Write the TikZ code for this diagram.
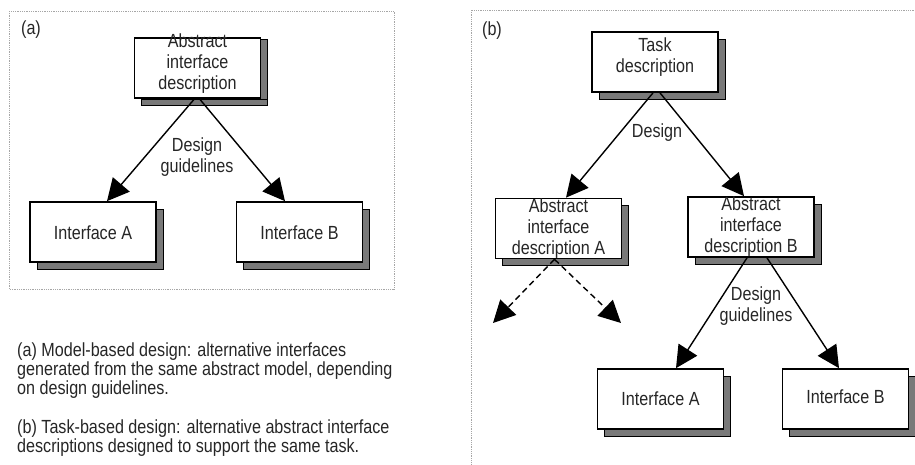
\documentclass[tikz,border=0pt]{standalone}
\usepackage{fontspec}
\setmainfont{Liberation Sans}[FakeStretch=0.85]
\usetikzlibrary{arrows.meta,shadows}
\tikzset{%
  frame/.style    = {draw=gray!70, densely dotted, line width=0.8pt},%
  block/.style    = {draw, line width=1.7pt, fill=white, inner sep=0pt,%
                     minimum width=126pt, minimum height=60pt,%
                     drop shadow={shadow xshift=7pt, shadow yshift=-7pt,%
                     fill=gray!95!black, draw=black, line width=1pt, opacity=1}},%
  flat/.style     = {drop shadow={shadow xshift=7pt, shadow yshift=-1pt,%
                     fill=gray!95!black, draw=black, line width=1pt, opacity=1}},%
  txt/.style      = {align=center, inner sep=0pt, text=black!85,%
                     font=\fontsize{19}{21}\selectfont},%
  caption/.style  = {align=left, inner sep=0pt, anchor=north west, text=black!85,%
                     font=\fontsize{19}{19}\selectfont},%
  flow/.style     = {line width=1.4pt, -{Triangle[length=22pt,width=22pt]}},%
  alt/.style      = {flow, dash pattern=on 6pt off 4pt}%
}
\begin{document}
\begin{tikzpicture}[x=1pt,y=-1pt]
	\useasboundingbox (0,0) rectangle (915,464);
	% frames
	\draw[frame] (9,11) rectangle (394,289);
	\draw[frame] (471,10) rectangle (930,480);
	\node at (31,30) [txt] {(a)};
	\node at (492,31) [txt] {(b)};
	% (a) model-based
	\node (absM) at (197.5,68) [block,flat] {};
	\node at (absM) [txt,yshift=4.5pt] {Abstract\\interface\\description};
	\node (ifaceMA) at (93,232) [block] {};
	\node at (ifaceMA) [txt,yshift=-1pt] {Interface A};
	\node (ifaceMB) at (299.5,232) [block] {};
	\node at (ifaceMB) [txt,yshift=-1pt] {Interface B};
	\draw[flow] ([xshift=-3pt]absM.south) -- ([xshift=14pt]ifaceMA.north);
	\draw[flow] ([xshift=2pt]absM.south) -- ([xshift=-14.5pt]ifaceMB.north);
	\node at (197,157) [txt] {Design\\guidelines};
	% captions
	\node at (17,343) [caption] {(a) Model-based design: alternative interfaces\\%
		generated from the same abstract model, depending\\on design guidelines.};
	\node at (17,420) [caption] {(b) Task-based design: alternative abstract interface\\%
		descriptions designed to support the same task.};
	% (b) task-based
	\node (task) at (655,62) [block] {};
	\node at (task) [txt,yshift=5pt] {Task\\description};
	\node (absA) at (558.5,228.5) [block] {};
	\node at (absA) [txt] {Abstract\\interface\\description A};
	\node (absB) at (751,227) [block] {};
	\node at (absB) [txt] {Abstract\\interface\\description B};
	\node (ifaceA) at (660.5,399) [block] {};
	\node at (ifaceA) [txt] {Interface A};
	\node (ifaceB) at (845.5,399) [block] {};
	\node at (ifaceB) [txt,yshift=2pt] {Interface B};
	\draw[flow] ([xshift=-2pt]task.south) -- ([xshift=7.5pt]absA.north);
	\draw[flow] ([xshift=5pt]task.south) -- ([xshift=-7pt]absB.north);
	\node at (657,133) [txt] {Design};
	\coordinate (altL) at (493,323);
	\coordinate (altR) at (621,323);
	\draw[alt] ([xshift=-4pt]absA.south) -- (altL);
	\draw[alt] ([xshift=-4pt]absA.south) -- (altR);
	\draw[flow] ([xshift=-4pt]absB.south) -- ([xshift=15.5pt]ifaceA.north);
	\draw[flow] ([xshift=16pt]absB.south) -- ([xshift=-6.5pt]ifaceB.north);
	\node at (756,306) [txt] {Design\\guidelines};
\end{tikzpicture}
\end{document}
